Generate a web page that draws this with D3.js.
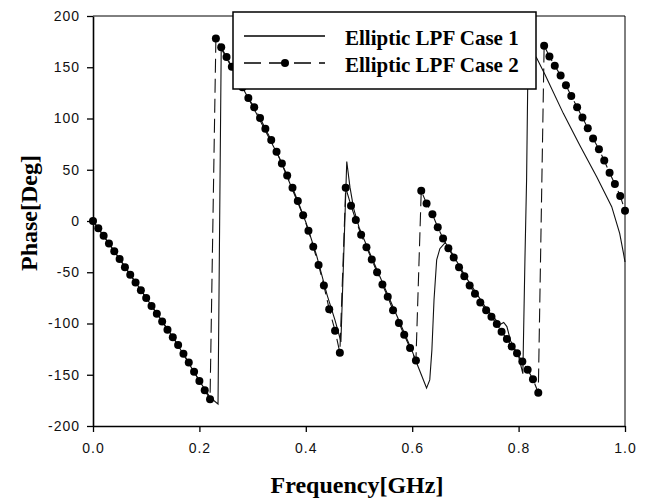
<!DOCTYPE html>
<html>
<head>
<meta charset="utf-8">
<script src="https://cdn.jsdelivr.net/npm/d3@7"></script>
<style>
	body { margin: 0; background: #fff; }
	svg { display: block; }
</style>
</head>
<body>
<svg width="651" height="504"></svg>
<script>
// Case 1 (solid line, no markers)
var case1Freq = [0, 0.05, 0.10, 0.15, 0.20, 0.22, 0.235, 0.241, 0.25, 0.26, 0.30, 0.35, 0.40, 0.42, 0.44, 0.455, 0.462, 0.466,
	0.477, 0.483, 0.49, 0.50, 0.52, 0.55, 0.58, 0.60, 0.611, 0.627, 0.633, 0.637, 0.641, 0.646, 0.652, 0.662, 0.67,
	0.70, 0.74, 0.765, 0.772, 0.778, 0.785, 0.80, 0.808, 0.812, 0.815, 0.818, 0.834, 0.85, 0.884, 0.915, 0.947, 0.975, 0.99, 0.997, 1.0];
var case1Phase = [0, -37, -75, -113, -156, -172, -178.5, 168, 160, 150.5, 112, 62, -1, -33, -72, -97, -110, -118,
	58, 33, 12, -6, -31, -67, -103, -127, -142, -163, -155, -126, -77, -38, -27, -21, -27,
	-54, -86, -101, -99, -103, -117, -132, -149, -35, 40, 170, 159, 142.5, 105, 74, 43, 14, -12, -31, -40];

// Case 2 (dashed line with dots)
var case2Freq = [0, 0.01, 0.02, 0.03, 0.04, 0.05, 0.06, 0.07, 0.08, 0.09, 0.10, 0.11, 0.12, 0.13, 0.14, 0.15, 0.16, 0.17, 0.18, 0.19, 0.20, 0.21, 0.22,
	0.231, 0.241, 0.251, 0.261, 0.271, 0.281, 0.292, 0.303, 0.314, 0.324, 0.335, 0.345, 0.355, 0.365, 0.375, 0.385, 0.395, 0.405, 0.414, 0.424, 0.434, 0.444, 0.455, 0.464,
	0.475, 0.485, 0.494, 0.504, 0.514, 0.524, 0.534, 0.544, 0.554, 0.564, 0.575, 0.585, 0.596, 0.607,
	0.617, 0.627, 0.638, 0.648, 0.658, 0.668, 0.678, 0.688, 0.698, 0.708, 0.718, 0.728, 0.739, 0.749, 0.759, 0.768, 0.778, 0.787, 0.797, 0.807, 0.817, 0.827, 0.837,
	0.848, 0.858, 0.868, 0.879, 0.889, 0.899, 0.91, 0.92, 0.93, 0.94, 0.951, 0.961, 0.971, 0.981, 0.991, 1.0];
var case2Phase = [0, -7, -14.5, -22, -29.5, -37, -45, -52.5, -60, -67.5, -75, -83, -90.5, -98, -106, -113.5, -121, -129.5, -138, -147, -156, -165, -174,
	178, 169.5, 160, 150.5, 140.5, 130.5, 120, 111, 100.5, 90, 79, 67.5, 56, 44.5, 32.5, 19.5, 5.5, -9.5, -25, -43, -63, -86, -107, -128.5,
	32.5, 15, 1, -13.5, -25.5, -37.5, -50, -62, -74, -87, -99.5, -111, -124, -136,
	29.5, 17, 6.5, -6, -17, -26.5, -35.5, -45, -54, -63, -71, -79.5, -87, -93.5, -100.5, -108, -115, -122.5, -129, -137, -145, -154.5, -167.5,
	171, 160.5, 151.5, 142, 132.5, 122, 111, 101, 90.5, 80.5, 70, 59, 47, 36, 24.5, 10];

var xTicks = [0, 0.2, 0.4, 0.6, 0.8, 1.0];
var yTicks = [-200, -150, -100, -50, 0, 50, 100, 150, 200];
var legendLabels = ["Elliptic LPF Case 1", "Elliptic LPF Case 2"];

function start(){
	var svg = d3.select("svg");
	var x = d3.scaleLinear().domain([0, 1]).range([93, 625]),
		y = d3.scaleLinear().domain([-200, 200]).range([426, 16]);

	var case1 = case1Freq.map(function(f, i){ return {f: f, p: case1Phase[i]}; });
	var case2 = case2Freq.map(function(f, i){ return {f: f, p: case2Phase[i]}; });

	var line = d3.line()
		.x(function(d){ return x(d.f); })
		.y(function(d){ return y(d.p); });

	// frame top / right
	svg.append("path")
		.attr("d", "M" + x(0) + "," + y(200) + "H" + x(1) + "V" + y(-200))
		.attr("fill", "none")
		.attr("stroke", "#000")
		.attr("stroke-width", 1);

	// curves
	svg.append("path")
		.datum(case1)
		.attr("d", line)
		.attr("fill", "none")
		.attr("stroke", "#111")
		.attr("stroke-width", 1.1);

	svg.append("path")
		.datum(case2)
		.attr("d", line)
		.attr("fill", "none")
		.attr("stroke", "#111")
		.attr("stroke-width", 1.1)
		.attr("stroke-dasharray", "14,6");

	svg.append("g").selectAll("circle")
		.data(case2)
		.enter().append("circle")
		.attr("cx", function(d){ return x(d.f); })
		.attr("cy", function(d){ return y(d.p); })
		.attr("r", 4)
		.attr("fill", "#000");

	// axes
	var yAxis = svg.append("g")
		.attr("transform", "translate(" + x(0) + ",0)")
		.call(d3.axisLeft(y).tickValues(yTicks).tickSize(6).tickSizeOuter(0).tickPadding(7)
			.tickFormat(function(d){ return d; }));
	var xAxis = svg.append("g")
		.attr("transform", "translate(0," + y(-200) + ")")
		.call(d3.axisBottom(x).tickValues(xTicks).tickSize(6).tickSizeOuter(0).tickPadding(11)
			.tickFormat(d3.format(".1f")));

	[yAxis, xAxis].forEach(function(g){
		g.select(".domain").attr("stroke", "#000").attr("stroke-width", 1.6);
		g.selectAll(".tick line").attr("stroke", "#000").attr("stroke-width", 1.3);
		g.selectAll(".tick text")
			.attr("fill", "#111")
			.style("font-family", "'Liberation Sans', Arial, sans-serif")
			.style("font-size", "14px")
			.style("letter-spacing", "1px");
	});

	// axis titles
	svg.append("text")
		.attr("x", 357)
		.attr("y", 493)
		.attr("text-anchor", "middle")
		.style("font-family", "'Liberation Serif', 'Times New Roman', serif")
		.style("font-weight", "bold")
		.style("font-size", "24px")
		.text("Frequency[GHz]");

	svg.append("text")
		.attr("transform", "translate(37,213) rotate(-90)")
		.attr("text-anchor", "middle")
		.style("font-family", "'Liberation Serif', 'Times New Roman', serif")
		.style("font-weight", "bold")
		.style("font-size", "24px")
		.text("Phase[Deg]");

	// legend
	var legend = svg.append("g");
	legend.append("rect")
		.attr("x", 233).attr("y", 12)
		.attr("width", 303).attr("height", 77)
		.attr("fill", "#fff")
		.attr("stroke", "#000")
		.attr("stroke-width", 1.5);

	var rows = [36, 63];
	legend.append("line")
		.attr("x1", 244).attr("x2", 325)
		.attr("y1", rows[0]).attr("y2", rows[0])
		.attr("stroke", "#000").attr("stroke-width", 1.3);
	legend.append("line")
		.attr("x1", 244).attr("x2", 325)
		.attr("y1", rows[1]).attr("y2", rows[1])
		.attr("stroke", "#000").attr("stroke-width", 1.3)
		.attr("stroke-dasharray", "17,8");
	legend.append("circle")
		.attr("cx", 285).attr("cy", rows[1])
		.attr("r", 4).attr("fill", "#000");

	legend.selectAll("text.lab")
		.data(legendLabels)
		.enter().append("text")
		.attr("class", "lab")
		.attr("x", 345)
		.attr("y", function(d, i){ return rows[i] + 9; })
		.style("font-family", "'Liberation Serif', 'Times New Roman', serif")
		.style("font-weight", "bold")
		.style("font-size", "21px")
		.text(function(d){ return d; });
}

start();
</script>
</body>
</html>
